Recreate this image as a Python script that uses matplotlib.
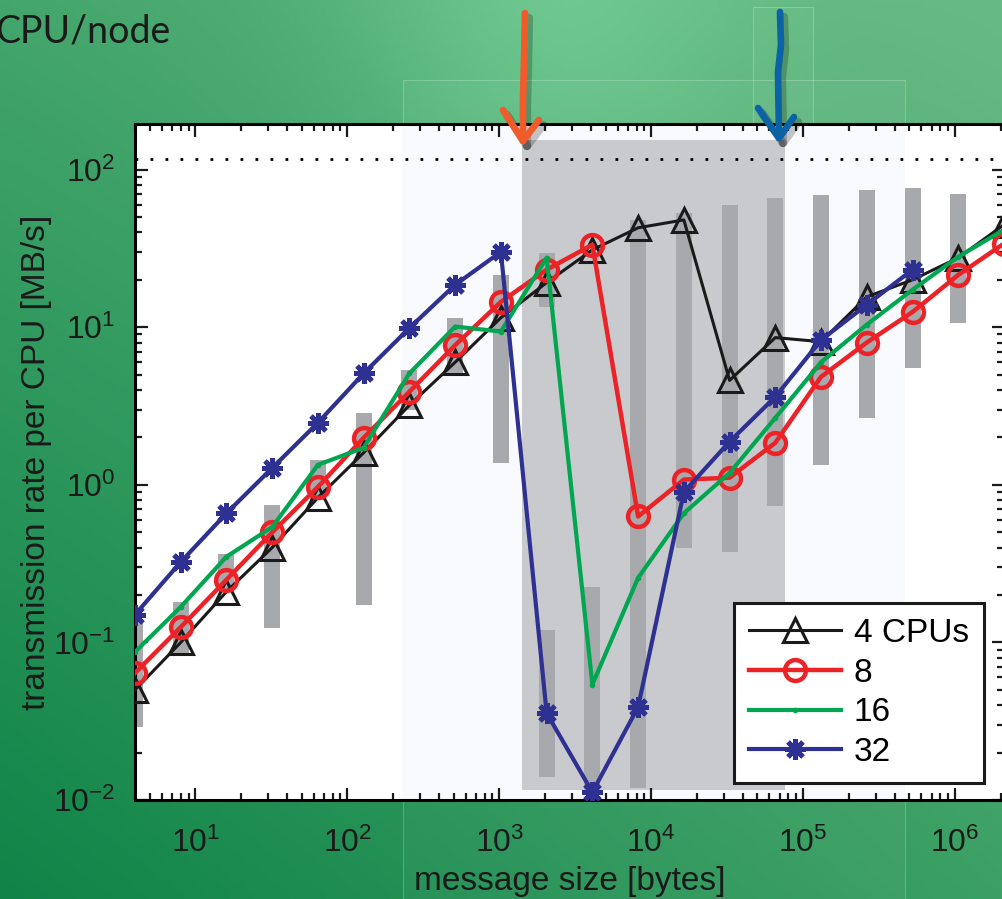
import numpy as np
import matplotlib
matplotlib.use('Agg')
import matplotlib.pyplot as plt
from matplotlib.lines import Line2D
from matplotlib.patches import Rectangle

plt.rcParams['font.family'] = ['Liberation Sans', 'DejaVu Sans']
plt.rcParams['mathtext.fontset'] = 'custom'
plt.rcParams['mathtext.rm'] = 'Liberation Sans'
plt.rcParams['mathtext.it'] = 'Liberation Sans:italic'
plt.rcParams['mathtext.bf'] = 'Liberation Sans:bold'

# message sizes [bytes]
sizes = [4, 8, 16, 32, 64, 128, 256, 512, 1024, 2048, 4096, 8192, 16384,
         32768, 65536, 131072, 262144, 524288, 1048576, 2097152]

# transmission rate per CPU [MB/s]
cpu4 = [0.050, 0.10, 0.21, 0.40, 0.83, 1.6, 3.2, 6.0, 11.5, 19.2, 31, 42.8,
        48, 4.6, 8.6, 8.1, 15.6, 20, 27.6, 44.8]
cpu8 = [0.064, 0.125, 0.25, 0.50, 0.97, 1.99, 3.9, 7.7, 14.5, 23.2, 33.4,
        0.63, 1.08, 1.11, 1.85, 4.85, 8.0, 12.5, 21.5, 34]
cpu16 = [0.087, 0.168, 0.35, 0.54, 1.34, 1.72, 5.1, 10.1, 9.4, 27.6, 0.054,
         0.257, 0.66, 1.19, 2.66, 6.0, 10.4, 17.3, 28, 41.6]
cpu32 = [0.15, 0.324, 0.66, 1.28, 2.48, 5.1, 9.9, 18.6, 30.1, 0.0356, 0.0112,
         0.0389, 0.90, 1.88, 3.62, 8.3, 13.9, 23.2]

# gray range bars
bar_sizes = [4, 8, 16, 32, 64, 128, 256, 512, 1024, 2048, 2048, 4096, 8192,
             16384, 32768, 65536, 131072, 262144, 524288, 1048576, 2097152]
bar_lo = [0.029, 0.083, 0.215, 0.124, 0.80, 0.173, 2.99, 5.0, 1.38, 13.5,
          0.014, 0.0116, 0.0119, 0.398, 0.376, 0.736, 1.34, 2.66, 5.53, 10.7, 18.6]
bar_hi = [0.139, 0.18, 0.365, 0.74, 1.44, 2.87, 5.37, 11.5, 21.6, 29.7,
          0.12, 0.225, 48.2, 53.4, 60, 66.4, 69.3, 74.6, 76.9, 70.5, 70.5]

peak_rate = 117
legend_labels = ['4 CPUs', '8', '16', '32']

W, H = 1003, 899
fig = plt.figure(figsize=(W / 100, H / 100), dpi=100)


def px(x, y):
    return x / W, 1 - y / H


# slide background
bg = fig.add_axes([0, 0, 1, 1], zorder=-5)
yy, xx = np.mgrid[0:1:200j, 0:1:220j]
tl = np.array([68, 166, 108])
tr = np.array([104, 186, 132])
bl = np.array([16, 132, 72])
br = np.array([60, 160, 100])
img = (tl * ((1 - xx) * (1 - yy))[..., None] + tr * (xx * (1 - yy))[..., None]
       + bl * ((1 - xx) * yy)[..., None] + br * (xx * yy)[..., None])
img += 22 * np.exp(-((xx - 0.55) ** 2) / 0.04 - (yy ** 2) / 0.08)[..., None]
bg.imshow(np.clip(img, 0, 255).astype(np.uint8), aspect='auto',
          extent=[0, 1, 0, 1], interpolation='bilinear')
bg.axis('off')

# faint overlay image frames
for (x0, y0, x1, y1) in [(403, 80, 905, 905), (753, 7, 813, 125)]:
    fx0, fy1 = px(x0, y0)
    fx1, fy0 = px(x1, y1)
    fig.patches.append(Rectangle((fx0, fy0), fx1 - fx0, fy1 - fy0,
                                 transform=fig.transFigure, facecolor=(1, 1, 1, 0.03),
                                 edgecolor=(1, 1, 1, 0.22), lw=0.8, zorder=-4))

fig.text(-5 / W, 1 - 42 / H, 'CPU/node', fontsize=27, color='#1a1a1a',
         family=['Lato', 'DejaVu Sans'], ha='left', va='baseline')

ax = fig.add_axes([135 / W, 1 - 800 / H, (1004 - 135) / W, 676 / H])
ax.set_xscale('log')
ax.set_yscale('log')
ax.set_xlim(4, 2097152)
ax.set_ylim(0.01, 195)

ax.axvspan(229, 4.7e5, color='#f9fafe', zorder=0, lw=0)
ax.fill_between([1400, 76000], 0.0116, 155, color='#c9cacd', zorder=1, lw=0)
ax.vlines(bar_sizes, bar_lo, bar_hi, colors='#a7a9ac', lw=11.5, zorder=2)
ax.axhline(peak_rate, color='k', lw=2, ls=(0, (1, 4.4)), zorder=2)

ax.plot(sizes, cpu4, color='#1a1a1a', lw=2.2, marker='^', ms=17, mfc='none',
        mew=2.2, label=legend_labels[0], zorder=3)
ax.plot(sizes, cpu8, color='#ec2227', lw=3.2, marker='o', ms=15, mfc='none',
        mew=3.2, label=legend_labels[1], zorder=4)
ax.plot(sizes, cpu16, color='#00a650', lw=3.0, marker='.', ms=6,
        label=legend_labels[2], zorder=5)
ax.plot(sizes[:len(cpu32)], cpu32, color='#2e3192', lw=3.0, marker=(8, 2, 0),
        ms=15, mew=3.5, label=legend_labels[3], zorder=6)

for side in ['left', 'right', 'top', 'bottom']:
    ax.spines[side].set_linewidth(2.2)
ax.tick_params(which='both', direction='in', top=True, right=True,
               labelsize=23, colors='#1a1a1a', width=1.6)
ax.tick_params(which='major', length=9)
ax.tick_params(which='minor', length=5)
ax.tick_params(axis='x', pad=20)
ax.tick_params(axis='y', pad=14)

ax.set_xlabel('message size [bytes]', fontsize=24, color='#1a1a1a')
ax.set_ylabel('transmission rate per CPU [MB/s]', fontsize=24, color='#1a1a1a')
ax.xaxis.set_label_coords(0.5, -0.097)
ax.yaxis.set_label_coords(-0.0955, 0.5)

leg = ax.legend(loc='lower right', bbox_to_anchor=(0.977, 0.025), fontsize=24,
                frameon=True, fancybox=False, handlelength=2.75,
                labelspacing=0.26, borderaxespad=0, borderpad=0.45,
                handletextpad=0.4, framealpha=1)
leg.get_frame().set_edgecolor('#1a1a1a')
leg.get_frame().set_linewidth(2.2)
leg.set_zorder(10)

# hand drawn arrows on top of the slide
arrows = [
    ('#f15a29', [(525, 13), (524, 60), (523, 100), (523, 141)], (503, 110), (539, 120)),
    ('#0b62a4', [(780, 12), (781, 45), (778, 72), (779, 138)], (758, 108), (794, 117)),
]
for color, shaft, hl, hr in arrows:
    tip = shaft[-1]
    strokes = [shaft, [hl, tip], [hr, tip]]
    for st in strokes:
        xs = [px(*p)[0] + 4 / W for p in st]
        ys = [px(*p)[1] - 5 / H for p in st]
        fig.add_artist(Line2D(xs, ys, transform=fig.transFigure, color='black',
                              alpha=0.22, lw=6, solid_capstyle='round', zorder=20))
    for st in strokes:
        xs = [px(*p)[0] for p in st]
        ys = [px(*p)[1] for p in st]
        fig.add_artist(Line2D(xs, ys, transform=fig.transFigure, color=color,
                              lw=4.8, solid_capstyle='round', solid_joinstyle='round',
                              zorder=21))

fig.savefig('out.png', dpi=100)
